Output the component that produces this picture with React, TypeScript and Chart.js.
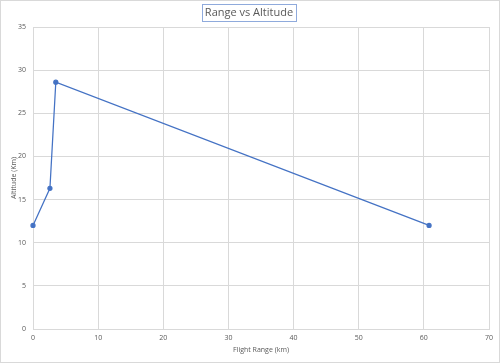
import React, { useEffect, useRef } from "react";
import { Chart, registerables } from "chart.js";

Chart.register(...registerables);

const chartTitle = "Range vs Altitude";
const xAxisTitle = "Flight Range (km)";
const yAxisTitle = "Altitude (Km)";
const rangeKm = [0, 2.6, 3.5, 60.8];
const altitudeKm = [12, 16.3, 28.6, 12];

const FONT = "'Open Sans', 'Liberation Sans', sans-serif";

const framePlugin = {
  id: "frame",
  beforeDraw(chart: any) {
    const ctx = chart.ctx;
    ctx.save();
    ctx.fillStyle = "#ffffff";
    ctx.fillRect(0, 0, chart.width, chart.height);
    ctx.strokeStyle = "#d9d9d9";
    ctx.lineWidth = 1;
    ctx.strokeRect(0.5, 0.5, chart.width - 1, chart.height - 1);
    ctx.restore();
  },
  afterDraw(chart: any) {
    const ctx = chart.ctx;
    ctx.save();
    ctx.font = `11px ${FONT}`;
    ctx.fillStyle = "#595959";
    ctx.textAlign = "center";
    ctx.textBaseline = "middle";
    const cx = 249;
    const cy = 13;
    const w = ctx.measureText(chartTitle).width;
    ctx.fillText(chartTitle, cx, cy);
    ctx.strokeStyle = "#8faadc";
    ctx.lineWidth = 1;
    ctx.strokeRect(Math.round(cx - w / 2 - 3) + 0.5, 4.5, Math.round(w + 6), 17);
    ctx.restore();
  },
};

export default function App() {
  const ref = useRef<HTMLCanvasElement>(null);
  useEffect(() => {
    const chart = new Chart(ref.current as HTMLCanvasElement, {
      type: "scatter",
      data: {
        datasets: [
          {
            data: rangeKm.map((x, i) => ({ x, y: altitudeKm[i] })),
            showLine: true,
            borderColor: "#4472c4",
            backgroundColor: "#4472c4",
            borderWidth: 1.25,
            pointRadius: 2,
            pointHoverRadius: 2,
            clip: false,
          },
        ],
      },
      plugins: [framePlugin],
      options: {
        animation: false,
        responsive: false,
        devicePixelRatio: 1,
        layout: { padding: { left: 0, right: 11, top: 27, bottom: 0 } },
        plugins: { legend: { display: false }, tooltip: { enabled: false } },
        scales: {
          x: {
            type: "linear",
            min: 0,
            max: 70,
            ticks: { stepSize: 10, color: "#595959", font: { size: 7, family: FONT }, padding: 5, maxRotation: 0 },
            grid: { color: "#d9d9d9", drawTicks: false },
            border: { color: "#d9d9d9" },
            title: { display: true, text: xAxisTitle, color: "#595959", font: { size: 7, family: FONT }, padding: { top: 0, bottom: 9 } },
            afterFit(scale: any) {
              scale.height = 34;
            },
          },
          y: {
            min: 0,
            max: 35,
            ticks: { stepSize: 5, color: "#595959", font: { size: 7, family: FONT }, padding: 7 },
            grid: { color: "#d9d9d9", drawTicks: false },
            border: { color: "#d9d9d9" },
            title: { display: true, text: yAxisTitle, color: "#595959", font: { size: 7, family: FONT }, padding: { top: 10, bottom: 0 } },
            afterFit(scale: any) {
              scale.width = 33;
            },
          },
        },
      } as any,
    });
    return () => chart.destroy();
  }, []);
  return (
    <div style={{ position: "absolute", left: 0, top: 0, width: 500, height: 363 }}>
      <canvas ref={ref} width={500} height={363} style={{ display: "block", width: 500, height: 363 }} />
    </div>
  );
}
